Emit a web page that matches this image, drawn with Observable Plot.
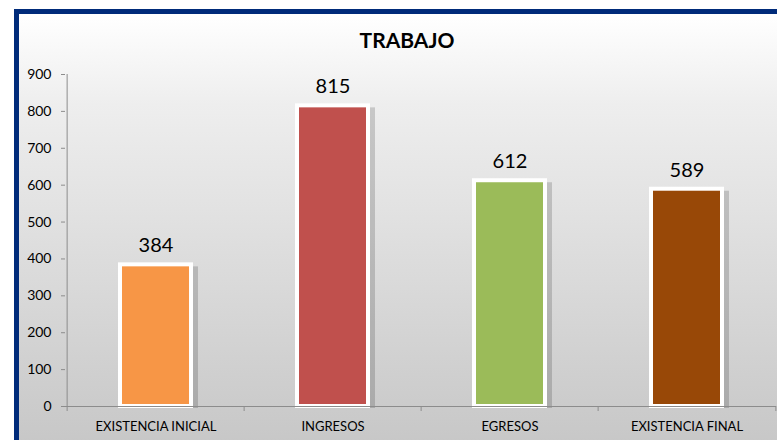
<!DOCTYPE html>
<html><head><meta charset="utf-8">
<script src="https://cdn.jsdelivr.net/npm/d3@7"></script>
<script src="https://cdn.jsdelivr.net/npm/@observablehq/plot@0.6"></script>
<style>
html,body{margin:0;padding:0;background:#fff;width:777px;height:440px;overflow:hidden;font-family:Lato,"Open Sans",sans-serif;}
#frame{position:absolute;left:14px;top:9px;width:820px;height:480px;border:5px solid #002b7a;background:linear-gradient(to bottom,#ffffff 0px,#eeeeee 90px,#c6c6c6 440px);}
#title{position:absolute;left:0;width:814px;top:27px;text-align:center;font-weight:bold;font-size:21px;color:#000;}
#chart{position:absolute;left:0;top:0;}
</style></head>
<body>
<div id="frame"></div>
<div id="title">TRABAJO</div>
<div id="chart"></div>
<script>
const categories = ["EXISTENCIA INICIAL", "INGRESOS", "EGRESOS", "EXISTENCIA FINAL"];
const values = [384, 815, 612, 589];
const colors = ["#F79646", "#C0504D", "#9BBB59", "#984807"];
const yTicks = [0,100,200,300,400,500,600,700,800,900];

const data = categories.map((c,i)=>({cat:c, v:values[i], color:colors[i]}));
const step = (776-65)/categories.length;

const plot = Plot.plot({
  width: 777, height: 440,
  marginLeft: 65, marginRight: 1, marginTop: 74, marginBottom: 34,
  style: {background: "transparent", fontFamily: "Lato, 'Open Sans', sans-serif", overflow: "visible", color: "#000"},
  x: {domain: categories, paddingInner: 0.6, paddingOuter: 0.3},
  y: {domain: [0, 900]},
  color: {type: "identity"},
  marks: [
    Plot.axisY({ticks: yTicks, tickSize: 4, tickPadding: 10, fontSize: 14, stroke: "#8c8c8c", fill: "#000", label: null}),
    Plot.axisX({tickSize: 0, tickPadding: 15, fontSize: 13, fill: "#000", label: null}),
    // shadows
    Plot.barY(data, {x: "cat", y: "v", fill: "#000", fillOpacity: 0.16, dx: 4, dy: 2, insetRight: -3}),
    Plot.barY(data, {x: "cat", y: "v", fill: "color", stroke: "white", strokeWidth: 4}),
    Plot.text(data, {x: "cat", y: "v", text: d => String(d.v), dy: -19, fontSize: 20, fill: "#000"}),
    // axis lines
    Plot.ruleX([categories[0]], {x: d => d, y1: 0, y2: 900, stroke: "#8c8c8c", dx: -step/2}),
    Plot.ruleY([0], {stroke: "#8c8c8c"}),
    // category boundary ticks
    Plot.ruleX(categories, {x: d => d, y1: 0, y2: 0, insetBottom: -5, stroke: "#8c8c8c", dx: -step/2}),
    Plot.ruleX([categories[categories.length-1]], {x: d => d, y1: 0, y2: 0, insetBottom: -5, stroke: "#8c8c8c", dx: step/2}),
  ]
});
document.getElementById("chart").appendChild(plot);
</script>
</body></html>
